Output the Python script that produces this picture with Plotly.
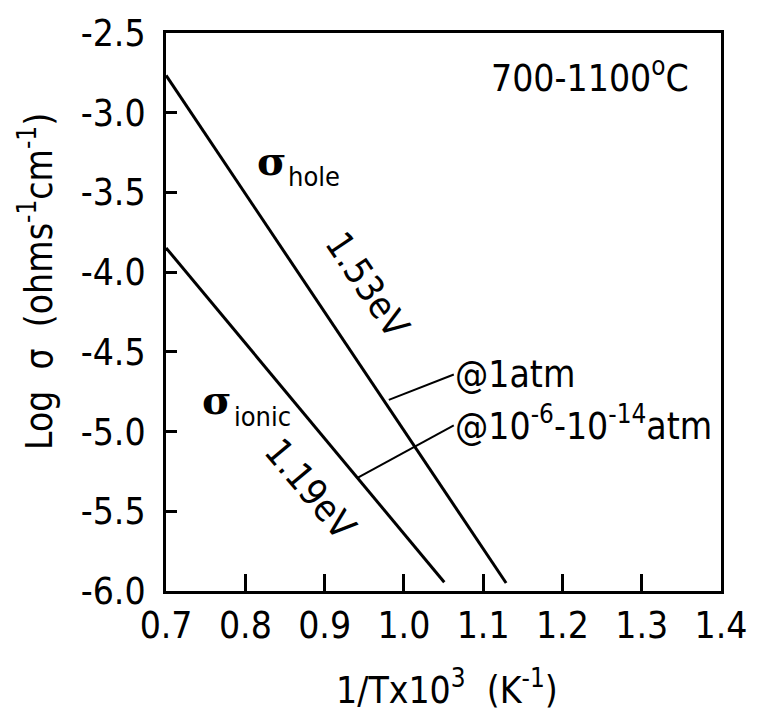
import plotly.graph_objects as go

# Arrhenius lines: log conductivity vs reciprocal temperature
hole_x = [0.70, 1.129]
hole_y = [-2.766, -5.95]
ionic_x = [0.70, 1.051]
ionic_y = [-3.848, -5.945]

# leader lines from each curve to its atmosphere label
lead_1atm_x = [0.981, 1.063]
lead_1atm_y = [-4.801, -4.642]
lead_low_x = [0.942, 1.063]
lead_low_y = [-5.289, -4.961]

x_ticks = [0.7, 0.8, 0.9, 1.0, 1.1, 1.2, 1.3, 1.4]
x_labels = ["0.7", "0.8", "0.9", "1.0", "1.1", "1.2", "1.3", "1.4"]
y_ticks = [-6.0, -5.5, -5.0, -4.5, -4.0, -3.5, -3.0, -2.5]
y_labels = ["-6.0", "-5.5", "-5.0", "-4.5", "-4.0", "-3.5", "-3.0", "-2.5"]

FONT = "DejaVu Sans Condensed, DejaVu Sans, sans-serif"
BIG = 37
SUB = 27

fig = go.Figure()
for xs, ys, w in [(hole_x, hole_y, 3), (ionic_x, ionic_y, 3),
                  (lead_1atm_x, lead_1atm_y, 2), (lead_low_x, lead_low_y, 2)]:
    fig.add_trace(go.Scatter(x=xs, y=ys, mode="lines",
                             line=dict(color="black", width=w),
                             showlegend=False, hoverinfo="skip"))

def label(text, x, y, size=BIG, xanchor="center", yanchor="middle", angle=0,
          family=FONT, xref="x", yref="y"):
    fig.add_annotation(text=text, x=x, y=y, xref=xref, yref=yref, showarrow=False,
                       xanchor=xanchor, yanchor=yanchor, textangle=angle,
                       font=dict(size=size, color="black", family=family))

label("700-1100<sup>o</sup>C", 1.362, -2.766, xanchor="right")
label("<b>σ</b>", 0.833, -3.298, size=40, family="DejaVu Serif, serif")
label("hole", 0.851, -3.400, size=SUB, xanchor="left")
label("<b>σ</b>", 0.764, -4.800, size=40, family="DejaVu Serif, serif")
label("ionic", 0.783, -4.905, size=SUB, xanchor="left")
label("1.53eV", 0.954, -4.085, angle=56)
label("1.19eV", 0.882, -5.365, angle=50)
label("@1atm", 1.062, -4.640, xanchor="left")
label("@10<sup>-6</sup>-10<sup>-14</sup>atm", 1.062, -4.950, xanchor="left")

axis_common = dict(showgrid=False, zeroline=False, showline=True, linecolor="black",
                   linewidth=3, mirror=True, ticks="inside", tickcolor="black",
                   tickwidth=3, tickfont=dict(size=BIG, color="black", family=FONT))
fig.update_xaxes(range=[0.6999, 1.4001], tickvals=x_ticks, ticktext=x_labels, ticklen=17,
                 **axis_common)
fig.update_yaxes(range=[-6.0, -2.5], tickvals=y_ticks, ticktext=y_labels, ticklen=11,
                 ticklabelstandoff=10, **axis_common)

W, H = 759, 717
L, R, T, B = 166, 27, 25, 126
fig.update_layout(width=W, height=H, margin=dict(l=L, r=R, t=T, b=B),
                  plot_bgcolor="white", paper_bgcolor="white",
                  font=dict(family=FONT, size=BIG, color="black"))

# axis titles placed in pixel space relative to the plot area
pw, ph = W - L - R, H - T - B
def px_to_paper(px, py):
    return (px - L) / pw, (H - B - py) / ph

xt = px_to_paper(453, 689)
yt = px_to_paper(34, 277)
label("1/Tx10<sup>3</sup>  (K<sup>-1</sup>)", xt[0], xt[1], xref="paper", yref="paper")
label("Log  σ  (ohms<sup>-1</sup>cm<sup>-1</sup>)", yt[0], yt[1], angle=-90,
      xref="paper", yref="paper")

fig.write_html("out.html")
